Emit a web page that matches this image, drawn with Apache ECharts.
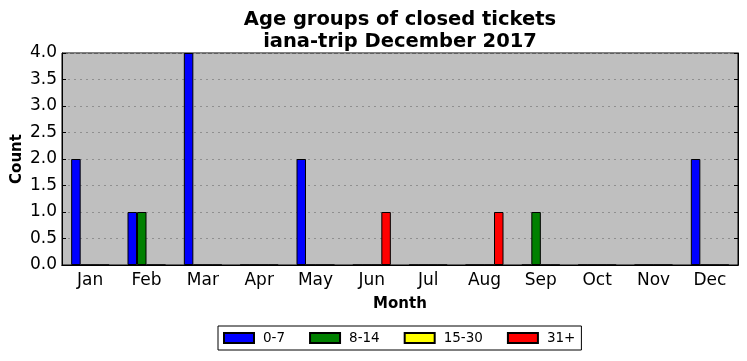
<!DOCTYPE html>
<html><head><meta charset="utf-8">
<script src="https://cdn.jsdelivr.net/npm/echarts@6/dist/echarts.min.js"></script>
<style>html,body{margin:0;padding:0;background:#fff}#c{width:747px;height:361px}</style>
</head><body><div id="c"></div>
<script>
const months = ['Jan','Feb','Mar','Apr','May','Jun','Jul','Aug','Sep','Oct','Nov','Dec'];
const age0_7 = [2,1,4,0,2,0,0,0,0,0,0,2];
const age8_14 = [0,1,0,0,0,0,0,0,1,0,0,0];
const age15_30 = [0,0,0,0,0,0,0,0,0,0,0,0];
const age31p = [0,0,0,0,0,1,0,1,0,0,0,0];
const seriesNames = ['0-7','8-14','15-30','31+'];
const seriesColors = ['#0000ff','#008000','#ffff00','#ff0000'];
const seriesData = [age0_7, age8_14, age15_30, age31p];

const font = 'DejaVu Sans';
const chart = echarts.init(document.getElementById('c'), null, {renderer:'canvas'});
chart.setOption({
  animation:false,
  textStyle:{fontFamily:font},
  title:{text:'Age groups of closed tickets\niana-trip December 2017', left:395, textAlign:'center', top:4,
    textStyle:{fontFamily:font, fontSize:19.5, fontWeight:'bold', color:'#000', lineHeight:22}},
  legend:{bottom:11, left:218, orient:'horizontal', borderColor:'#000', borderWidth:1, borderRadius:0,
    padding:[5,6,5,5], itemWidth:30, itemHeight:10, itemGap:24,
    textStyle:{fontFamily:font, fontSize:13.5, color:'#000', padding:[0,0,0,4]}, data:seriesNames, icon:'rect'},
  grid:{left:62, right:9, top:53, bottom:96, show:true, backgroundColor:'#bfbfbf', borderColor:'#000', borderWidth:1,
    outerBoundsMode:'none', containLabel:false},
  xAxis:[{type:'category', data:months, position:'bottom',
    name:'Month', nameLocation:'middle', nameGap:32, nameMoveOverlap:false,
    nameTextStyle:{fontFamily:font, fontSize:15, fontWeight:'bold', color:'#000'},
    axisLine:{lineStyle:{color:'#000'}}, axisTick:{inside:true, alignWithLabel:true, length:5, lineStyle:{color:'#000'}},
    axisLabel:{fontFamily:font, fontSize:17, color:'#000', margin:7}, splitLine:{show:false}},
    {type:'category', data:months, position:'top', axisLine:{lineStyle:{color:'#000'}},
    axisTick:{inside:true, alignWithLabel:true, length:5, lineStyle:{color:'#000'}}, axisLabel:{show:false}}],
  yAxis:[{type:'value', min:0, max:4, interval:0.5,
    name:'Count', nameLocation:'middle', nameGap:37, nameMoveOverlap:false,
    nameTextStyle:{fontFamily:font, fontSize:15, fontWeight:'bold', color:'#000'},
    axisLine:{show:true, lineStyle:{color:'#000'}}, axisTick:{show:true, inside:true, length:4, lineStyle:{color:'#000'}},
    axisLabel:{fontFamily:font, fontSize:17, color:'#000', margin:5, formatter:v=>v.toFixed(1)},
    splitLine:{show:true, lineStyle:{color:'#8f8f8f', type:[2,4], width:1}}},
    {type:'value', min:0, max:4, interval:0.5, position:'right',
    axisLine:{show:true, lineStyle:{color:'#000'}}, axisTick:{show:true, inside:true, length:4, lineStyle:{color:'#000'}},
    axisLabel:{show:false}, splitLine:{show:false}}],
  series: seriesNames.map((n,i)=>({name:n, type:'bar', data:seriesData[i], xAxisIndex:0, yAxisIndex:0,
    barWidth:9.5, barGap:'0%',
    itemStyle:{color:seriesColors[i], borderColor:'#000', borderWidth:1}}))
});
</script></body></html>
